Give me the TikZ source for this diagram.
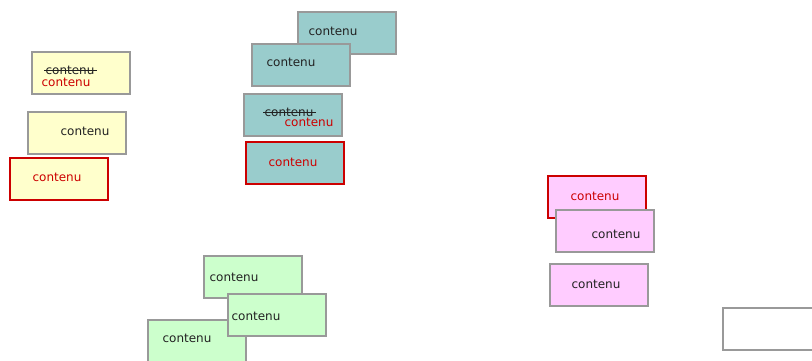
\documentclass[tikz,border=0pt]{standalone}
\usepackage{fontspec}
\setmainfont{DejaVu Sans}
\definecolor{jaune}{HTML}{FFFFCC}
\definecolor{sarcelle}{HTML}{99CCCC}
\definecolor{rose}{HTML}{FFCCFF}
\definecolor{vert}{HTML}{CCFFCC}
\definecolor{bordgris}{HTML}{999999}
\definecolor{rouge}{HTML}{CC0000}
\definecolor{encre}{HTML}{222222}
\begin{document}
\begin{tikzpicture}[x=1pt, y=-1pt,
    boite/.style={draw=bordgris, line width=1.8pt, minimum width=98pt,
        minimum height=42pt, inner sep=0pt, anchor=north west},
    choisie/.style={boite, draw=rouge},
    texte/.style={inner sep=0pt, text=encre,
        font=\fontsize{12}{14}\selectfont},
    rtexte/.style={texte, text=rouge},
    barre/.style={draw=encre, line width=0.9pt}]
    \useasboundingbox (0,0) rectangle (812,361);

    % groupe jaune
    \node[boite, fill=jaune] (j1) at (31,51) {};
    \node[texte] (tj1) at (70,70) {contenu};
    \draw[barre] ([xshift=-1pt]tj1.west) -- ([xshift=2pt]tj1.east);
    \node[rtexte] (tj1r) at (66,82) {contenu};
    \node[boite, fill=jaune] (j2) at (27,111) {};
    \node[texte] (tj2) at (85,131) {contenu};
    \node[choisie, fill=jaune] (j3) at (9,157) {};
    \node[rtexte] (tj3) at (57,177) {contenu};

    % groupe sarcelle
    \node[boite, fill=sarcelle] (s1) at (297,11) {};
    \node[texte] (ts1) at (333,31) {contenu};
    \node[boite, fill=sarcelle] (s2) at (251,43) {};
    \node[texte] (ts2) at (291,62) {contenu};
    \node[boite, fill=sarcelle] (s3) at (243,93) {};
    \node[texte] (ts3) at (289,112) {contenu};
    \draw[barre] ([xshift=-1pt]ts3.west) -- ([xshift=2pt]ts3.east);
    \node[rtexte] (ts3r) at (309,122) {contenu};
    \node[choisie, fill=sarcelle] (s4) at (245,141) {};
    \node[rtexte] (ts4) at (293,162) {contenu};

    % groupe rose
    \node[choisie, fill=rose] (r1) at (547,175) {};
    \node[rtexte] (tr1) at (595,196) {contenu};
    \node[boite, fill=rose] (r2) at (555,209) {};
    \node[texte] (tr2) at (616,234) {contenu};
    \node[boite, fill=rose] (r3) at (549,263) {};
    \node[texte] (tr3) at (596,284) {contenu};

    % groupe vert
    \node[boite, fill=vert] (v1) at (203,255) {};
    \node[texte] (tv1) at (234,277) {contenu};
    \node[boite, fill=vert] (v3) at (147,319) {};
    \node[texte] (tv3) at (187,338) {contenu};
    \node[boite, fill=vert] (v2) at (227,293) {};
    \node[texte] (tv2) at (256,316) {contenu};

    % boite vide
    \node[boite, fill=white] (vide) at (722,307) {};
\end{tikzpicture}
\end{document}
